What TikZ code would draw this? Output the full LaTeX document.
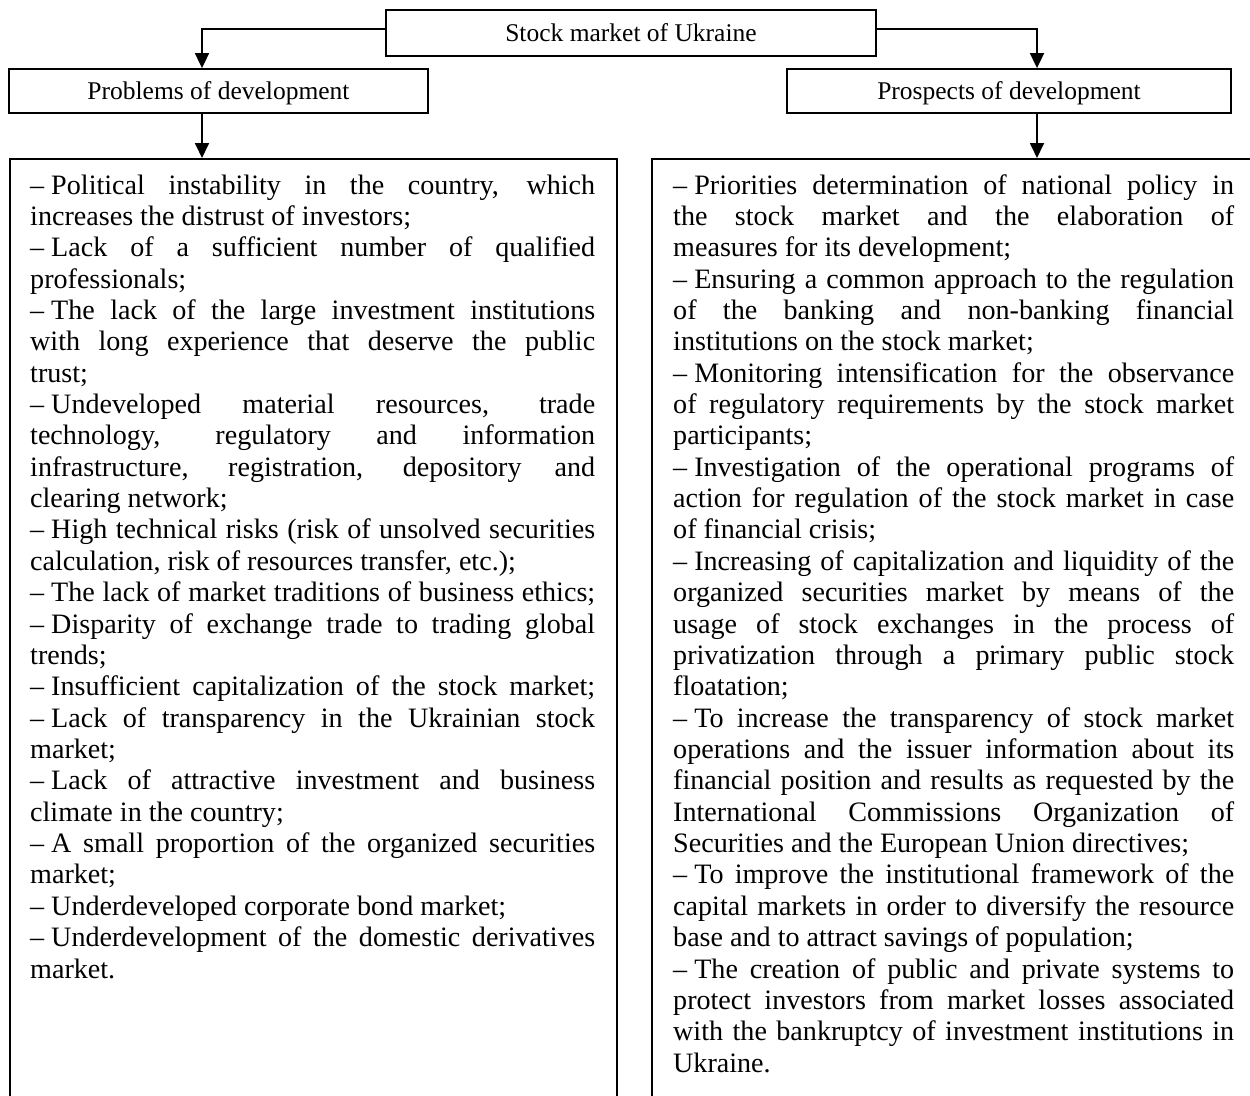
\documentclass[tikz,border=0pt]{standalone}
\usepackage{fontspec}
\setmainfont{Liberation Serif}
\usetikzlibrary{arrows.meta}
\newcommand\jline[1]{\hbox to\hsize{#1}}
\newcommand\lline[1]{\hbox{#1}}
\newcommand\dsh{–\kern0.25em}
\tikzset{
  hdr/.style={draw, line width=1.8pt, inner sep=0pt, text depth=0pt, font=\fontsize{25.5}{28}\selectfont},
  bigbox/.style={draw, line width=1.8pt, inner sep=0pt, anchor=north west},
  txt/.style={inner sep=0pt, anchor=base west, font=\fontsize{28.1}{31.36}\selectfont},
  conn/.style={line width=1.8pt, -{Triangle[length=15pt,width=14pt]}}
}
\begin{document}
\begin{tikzpicture}[x=1pt,y=-1pt]
\useasboundingbox (0,0) rectangle (1250,1095);
% header boxes
\node[hdr, minimum width=490pt, minimum height=46pt] (top) at (631,33) {Stock market of Ukraine};
\node[hdr, minimum width=419pt, minimum height=44pt] (prob) at (218.5,91) {Problems of development};
\node[hdr, minimum width=444pt, minimum height=44pt] (prosp) at (1009,91) {Prospects of development};
% big boxes
\node[bigbox, minimum width=607pt, minimum height=1000pt] (probbox) at (9,158) {};
\node[bigbox, minimum width=660pt, minimum height=1000pt] (prospbox) at (651,158) {};
% connectors
\draw[conn] ([yshift=4pt]top.west) -| ([xshift=-16.5pt]prob.north);
\draw[conn] ([yshift=4pt]top.east) -| ([xshift=28pt]prosp.north);
\draw[conn] ([xshift=-16.5pt]prob.south) -- ([xshift=-16.5pt]prob.south |- probbox.north);
\draw[conn] ([xshift=28pt]prosp.south) -- ([xshift=28pt]prosp.south |- prospbox.north);
% texts
\node[txt] (probtext) at (30,194) {\vtop{\hsize=565pt
\jline{\dsh Political instability in the country, which}
\lline{increases the distrust of investors;}
\jline{\dsh Lack of a sufficient number of qualified}
\lline{professionals;}
\jline{\dsh The lack of the large investment institutions}
\jline{with long experience that deserve the public}
\lline{trust;}
\jline{\dsh Undeveloped material resources, trade}
\jline{technology, regulatory and information}
\jline{infrastructure, registration, depository and}
\lline{clearing network;}
\jline{\dsh High technical risks (risk of unsolved securities}
\lline{calculation, risk of resources transfer, etc.);}
\jline{\dsh The lack of market traditions of business ethics;}
\jline{\dsh Disparity of exchange trade to trading global}
\lline{trends;}
\jline{\dsh Insufficient capitalization of the stock market;}
\jline{\dsh Lack of transparency in the Ukrainian stock}
\lline{market;}
\jline{\dsh Lack of attractive investment and business}
\lline{climate in the country;}
\jline{\dsh A small proportion of the organized securities}
\lline{market;}
\lline{\dsh Underdeveloped corporate bond market;}
\jline{\dsh Underdevelopment of the domestic derivatives}
\lline{market.}}};
\node[txt] (prosptext) at (673,194) {\vtop{\hsize=561pt
\jline{\dsh Priorities determination of national policy in}
\jline{the stock market and the elaboration of}
\lline{measures for its development;}
\jline{\dsh Ensuring a common approach to the regulation}
\jline{of the banking and non-banking financial}
\lline{institutions on the stock market;}
\jline{\dsh Monitoring intensification for the observance}
\jline{of regulatory requirements by the stock market}
\lline{participants;}
\jline{\dsh Investigation of the operational programs of}
\jline{action for regulation of the stock market in case}
\lline{of financial crisis;}
\jline{\dsh Increasing of capitalization and liquidity of the}
\jline{organized securities market by means of the}
\jline{usage of stock exchanges in the process of}
\jline{privatization through a primary public stock}
\lline{floatation;}
\jline{\dsh To increase the transparency of stock market}
\jline{operations and the issuer information about its}
\jline{financial position and results as requested by the}
\jline{International Commissions Organization of}
\lline{Securities and the European Union directives;}
\jline{\dsh To improve the institutional framework of the}
\jline{capital markets in order to diversify the resource}
\lline{base and to attract savings of population;}
\jline{\dsh The creation of public and private systems to}
\jline{protect investors from market losses associated}
\jline{with the bankruptcy of investment institutions in}
\lline{Ukraine.}}};
\end{tikzpicture}
\end{document}
